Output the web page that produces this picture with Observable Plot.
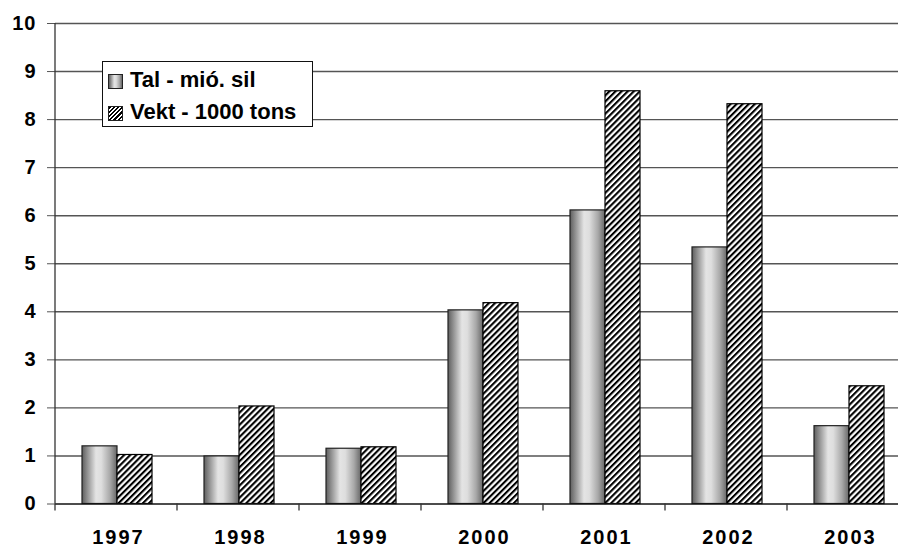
<!DOCTYPE html>
<html>
<head>
<meta charset="utf-8">
<script src="https://cdn.jsdelivr.net/npm/d3@7"></script>
<script src="https://cdn.jsdelivr.net/npm/@observablehq/plot@0.6"></script>
<style>
  html, body { margin: 0; padding: 0; background: #fff; overflow: hidden; }
  #wrap { position: relative; width: 898px; height: 548px; font-family: "Liberation Sans", Arial, sans-serif; }
  #legend { position: absolute; left: 102px; top: 61px; width: 209px; height: 64px; border: 1px solid #111; background: #fff; }
  .sw { position: absolute; left: 5px; width: 13px; height: 13px; border: 1px solid #222; }
  .lt { position: absolute; left: 27px; font-size: 22px; font-weight: bold; line-height: 25px; white-space: nowrap; color: #000; }
</style>
</head>
<body>
<div id="wrap"></div>
<script>
const years = ["1997", "1998", "1999", "2000", "2001", "2002", "2003"];
const tal = [1.2, 0.99, 1.15, 4.03, 6.11, 5.34, 1.62];
const vekt = [1.02, 2.03, 1.18, 4.18, 8.59, 8.32, 2.45];
const yTicks = [0, 1, 2, 3, 4, 5, 6, 7, 8, 9, 10];
const seriesNames = ["Tal - mió. sil", "Vekt - 1000 tons"];

const rows = years.map((year, i) => ({year, tal: tal[i], vekt: vekt[i]}));

const plot = Plot.plot({
  width: 898,
  height: 548,
  marginLeft: 55,
  marginRight: -12,
  marginTop: 23,
  marginBottom: 44.5,
  style: {fontFamily: "'Liberation Sans', Arial, sans-serif", background: "#fff", overflow: "visible"},
  x: {domain: years, paddingInner: 0.427, paddingOuter: 0.2135, align: 0.5, axis: null},
  y: {domain: [0, 10], axis: null},
  marks: [
    Plot.ruleY(yTicks.filter(d => d > 0), {stroke: "#555", strokeWidth: 1.4}),
    Plot.axisY(yTicks, {tickSize: 8, tickPadding: 11, fontSize: 20, fontWeight: "bold", stroke: "#555", label: null}),
    Plot.barY(rows, {x: "year", y: "tal", insetRight: 35, fill: "url(#talGrad)", stroke: "#222", strokeWidth: 1.2}),
    Plot.barY(rows, {x: "year", y: "vekt", insetLeft: 35, fill: "url(#vektHatch)", stroke: "#000", strokeWidth: 1.2}),
    Plot.ruleY([0], {stroke: "#111", strokeWidth: 1.3}),
    Plot.axisX(years, {tickSize: 0, tickPadding: 25.3, fontSize: 20, fontWeight: "bold", label: null})
  ]
});

// gradient + hatch definitions and axis line / category ticks
const svg = d3.select(plot);
const defs = svg.insert("defs", ":first-child");
const g = defs.append("linearGradient").attr("id", "talGrad").attr("x1", 0).attr("x2", 1).attr("y1", 0).attr("y2", 0);
[[0, "#5e5e5e"], [0.18, "#9a9a9a"], [0.4, "#e4e4e4"], [0.55, "#dedede"], [0.8, "#a8a8a8"], [1, "#666"]]
  .forEach(([o, c]) => g.append("stop").attr("offset", o).attr("stop-color", c));
const p = defs.append("pattern").attr("id", "vektHatch").attr("patternUnits", "userSpaceOnUse")
  .attr("width", 4.3).attr("height", 4.3).attr("patternTransform", "rotate(45)");
p.append("rect").attr("width", 4.3).attr("height", 4.3).attr("fill", "#fff");
p.append("rect").attr("width", 2.1).attr("height", 4.3).attr("fill", "#000");

// widen x tick labels slightly to match the reference's letterforms
svg.selectAll('[aria-label="x-axis tick label"] text')
  .style("letter-spacing", "2px").attr("dx", 1);
svg.selectAll('[aria-label="y-axis tick label"] text')
  .style("letter-spacing", "1px");

const sx = plot.scale("x");
const sy = plot.scale("y");
const x0 = sx.range[0];
const yBottom = sy.range[0], yTop = sy.range[1];
svg.append("line").attr("x1", x0).attr("x2", x0).attr("y1", yTop).attr("y2", yBottom)
  .attr("stroke", "#333").attr("stroke-width", 1.3);
for (let i = 0; i <= years.length; i++) {
  const xx = x0 + i * sx.step;
  svg.append("line").attr("x1", xx).attr("x2", xx).attr("y1", yBottom).attr("y2", yBottom + 7)
    .attr("stroke", "#333").attr("stroke-width", 1.3);
}

const wrap = document.getElementById("wrap");
wrap.appendChild(plot);

// legend
const legend = document.createElement("div");
legend.id = "legend";
const fills = [
  "linear-gradient(90deg, #5e5e5e 0%, #9a9a9a 18%, #e4e4e4 40%, #dedede 55%, #a8a8a8 80%, #666 100%)",
  "repeating-linear-gradient(135deg, #000 0 1.5px, #fff 1.5px 3px)"
];
const swTops = [12, 44];
const txtTops = [5, 37];
seriesNames.forEach((name, i) => {
  const sw = document.createElement("div");
  sw.className = "sw";
  sw.style.top = swTops[i] + "px";
  sw.style.background = fills[i];
  legend.appendChild(sw);
  const t = document.createElement("div");
  t.className = "lt";
  t.style.top = txtTops[i] + "px";
  t.textContent = name;
  legend.appendChild(t);
});
wrap.appendChild(legend);
</script>
</body>
</html>
